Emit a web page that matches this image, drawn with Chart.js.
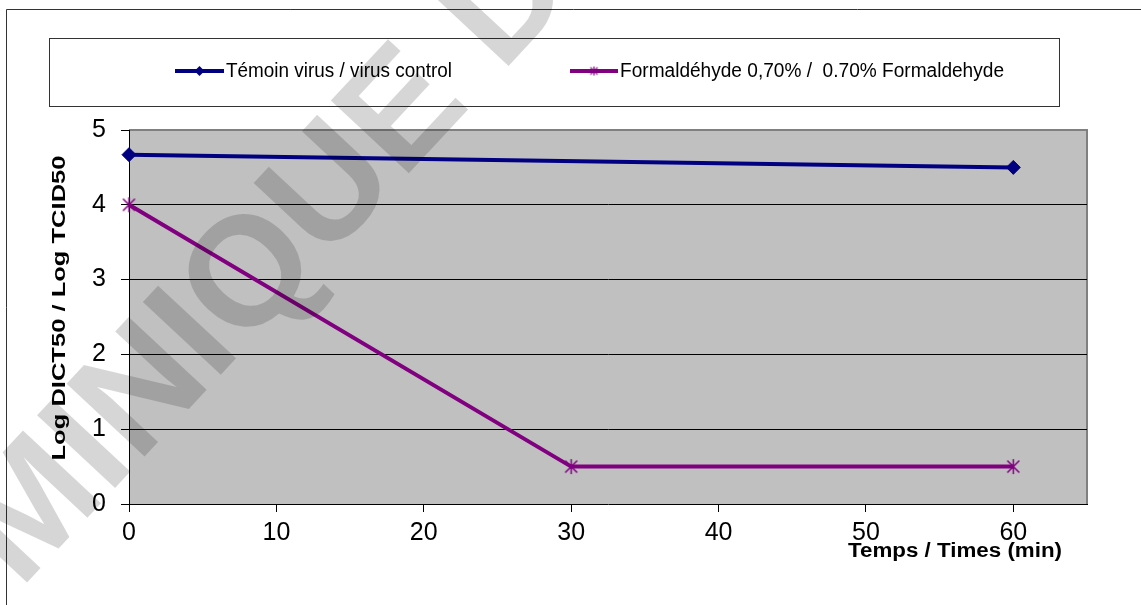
<!DOCTYPE html>
<html>
<head>
<meta charset="utf-8">
<script src="https://cdn.jsdelivr.net/npm/chart.js@4/dist/chart.umd.min.js"></script>
<style>
  html, body { margin: 0; padding: 0; background: #ffffff; }
  #wrap { width: 1141px; height: 605px; position: relative; }
</style>
</head>
<body>
<div id="wrap"><canvas id="chart" width="1141" height="605"></canvas></div>
<script>
// Sampling times (min) and titres for each series
const controlTimes = [0, 60];
const controlTitres = [4.67, 4.5];
const formolTimes = [0, 30, 60];
const formolTitres = [4, 0.5, 0.5];

const seriesLabels = ['Témoin virus / virus control', 'Formaldéhyde 0,70% /  0.70% Formaldehyde'];
const xTicks = [0, 10, 20, 30, 40, 50, 60];
const yTicks = [0, 1, 2, 3, 4, 5];
const xTitle = 'Temps / Times (min)';
const yTitle = 'Log DICT50 / Log TCID50';
const stampText = 'MINIQUE D';

const FONT = '"Liberation Sans", Arial, Helvetica, sans-serif';
const NAVY = '#000080';
const PURPLE = '#800080';

// Asterisk marker (vertical bar + diagonal cross)
function asterisk(size, color, lw) {
  const c = document.createElement('canvas');
  c.width = c.height = size;
  const g = c.getContext('2d');
  g.strokeStyle = color;
  g.lineWidth = lw;
  const m = size / 2, r = size / 2 - 1, d = r * 0.8;
  g.beginPath();
  g.moveTo(m, m - r); g.lineTo(m, m + r);
  g.moveTo(m - d, m - d); g.lineTo(m + d, m + d);
  g.moveTo(m + d, m - d); g.lineTo(m - d, m + d);
  g.stroke();
  return c;
}
const starBig = asterisk(17, PURPLE, 1.5);
const starSmall = asterisk(11, PURPLE, 1.2);

function pairs(xs, ys) { return xs.map((x, i) => ({ x: x, y: ys[i] })); }

// Draw text stretched along its own direction to a given length
function fittedText(ctx, text, x, y, font, width, align) {
  ctx.save();
  ctx.font = font;
  const w = ctx.measureText(text).width;
  const sx = width / w;
  ctx.translate(x, y);
  ctx.scale(sx, 1);
  ctx.textAlign = align;
  ctx.textBaseline = 'middle';
  ctx.fillText(text, 0, 0);
  ctx.restore();
}

const framePlugin = {
  id: 'frame',
  beforeDraw(chart) {
    const { ctx, chartArea: a } = chart;
    ctx.save();
    ctx.fillStyle = '#ffffff';
    ctx.fillRect(0, 0, chart.width, chart.height);
    // outer frame
    ctx.strokeStyle = '#333333';
    ctx.lineWidth = 1;
    ctx.beginPath();
    ctx.moveTo(6.5, chart.height);
    ctx.lineTo(6.5, 9.5);
    ctx.lineTo(chart.width, 9.5);
    ctx.stroke();
    // plot background
    ctx.fillStyle = '#c0c0c0';
    ctx.fillRect(a.left, a.top, a.right - a.left, a.bottom - a.top);
    // plot frame, top and right
    ctx.strokeStyle = '#808080';
    ctx.lineWidth = 2;
    ctx.beginPath();
    ctx.moveTo(a.left, a.top);
    ctx.lineTo(a.right, a.top);
    ctx.lineTo(a.right, a.bottom);
    ctx.stroke();
    ctx.restore();
  },
  afterDraw(chart) {
    const { ctx } = chart;
    ctx.save();
    // legend box
    ctx.strokeStyle = '#333333';
    ctx.lineWidth = 1;
    ctx.strokeRect(49.5, 38.5, 1010, 68);
    const ly = 71;
    const items = [
      { x0: 175, x1: 224, color: NAVY, marker: 'diamond', textW: 226 },
      { x0: 570, x1: 618, color: PURPLE, marker: 'star', textW: 384 }
    ];
    items.forEach((it, i) => {
      ctx.strokeStyle = it.color;
      ctx.lineWidth = 4;
      ctx.beginPath();
      ctx.moveTo(it.x0, ly);
      ctx.lineTo(it.x1, ly);
      ctx.stroke();
      const mx = (it.x0 + it.x1) / 2;
      if (it.marker === 'diamond') {
        ctx.fillStyle = it.color;
        ctx.beginPath();
        ctx.moveTo(mx, ly - 5); ctx.lineTo(mx + 5, ly);
        ctx.lineTo(mx, ly + 5); ctx.lineTo(mx - 5, ly);
        ctx.closePath();
        ctx.fill();
      } else {
        ctx.drawImage(starSmall, mx - 5.5, ly - 5.5);
      }
      ctx.fillStyle = '#000000';
      fittedText(ctx, chart.data.datasets[i].label, it.x1 + 2, ly, '20px ' + FONT, it.textW, 'left');
    });
    // axis titles
    fittedText(ctx, xTitle, 1062, 551, 'bold 20px ' + FONT, 214, 'right');
    ctx.save();
    ctx.translate(60, 308);
    ctx.rotate(-Math.PI / 2);
    fittedText(ctx, yTitle, 0, 0, 'bold 19px ' + FONT, 305, 'center');
    ctx.restore();
    // diagonal stamp
    ctx.translate(20, 590);
    ctx.rotate(-47 * Math.PI / 180);
    ctx.font = 'bold 155px ' + FONT;
    ctx.fillStyle = 'rgba(0,0,0,0.16)';
    ctx.textAlign = 'left';
    ctx.textBaseline = 'alphabetic';
    ctx.fillText(stampText, 0, 0);
    ctx.restore();
  }
};

new Chart(document.getElementById('chart'), {
  type: 'line',
  data: {
    datasets: [
      {
        label: seriesLabels[0],
        data: pairs(controlTimes, controlTitres),
        borderColor: NAVY,
        backgroundColor: NAVY,
        borderWidth: 4,
        pointStyle: 'rectRot',
        pointRadius: 7,
        pointBorderWidth: 1,
        pointBackgroundColor: NAVY,
        pointBorderColor: NAVY,
        tension: 0,
        clip: false
      },
      {
        label: seriesLabels[1],
        data: pairs(formolTimes, formolTitres),
        borderColor: PURPLE,
        backgroundColor: PURPLE,
        borderWidth: 4,
        pointStyle: starBig,
        pointRadius: 8,
        tension: 0,
        clip: false
      }
    ]
  },
  options: {
    responsive: false,
    animation: false,
    devicePixelRatio: 1,
    layout: { padding: { left: 0, top: 130, right: 54, bottom: 0 } },
    plugins: { legend: { display: false }, tooltip: { enabled: false } },
    scales: {
      x: {
        type: 'linear',
        min: 0,
        max: 65,
        afterFit(s) { s.height = 101; },
        afterBuildTicks(s) { s.ticks = xTicks.map(v => ({ value: v })); },
        ticks: { font: { family: FONT, size: 25 }, color: '#000', padding: 6, maxRotation: 0 },
        grid: { drawOnChartArea: false, drawTicks: true, tickLength: 8, tickColor: '#000', color: '#000' },
        border: { display: true, color: '#000', width: 1 }
      },
      y: {
        min: 0,
        max: 5,
        afterFit(s) { s.width = 129; },
        afterBuildTicks(s) { s.ticks = yTicks.map(v => ({ value: v })); },
        ticks: { font: { family: FONT, size: 25 }, color: '#000', padding: 15 },
        grid: {
          color: c => (c.tick && (c.tick.value === 0 || c.tick.value === 5)) ? 'rgba(0,0,0,0)' : '#000',
          tickColor: '#000',
          tickLength: 8,
          lineWidth: 1
        },
        border: { display: true, color: '#000', width: 1 }
      }
    }
  },
  plugins: [framePlugin]
});
</script>
</body>
</html>
